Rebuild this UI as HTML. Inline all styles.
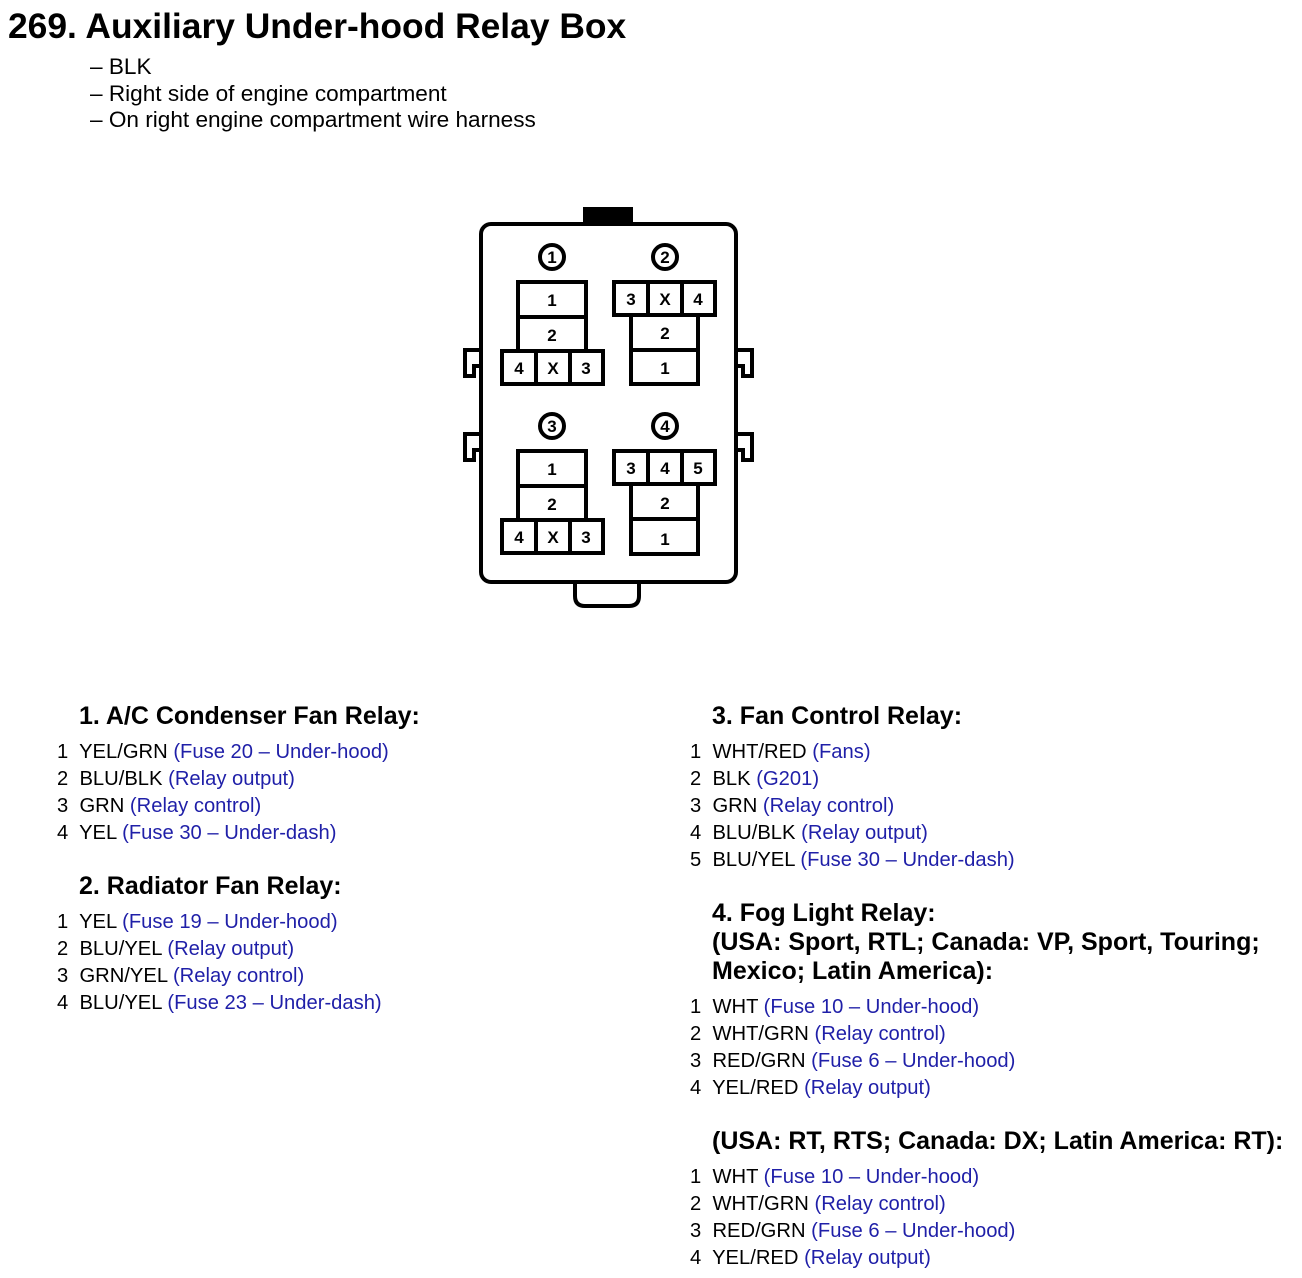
<!DOCTYPE html>
<html><head><meta charset="utf-8">
<style>
body{margin:0;width:1302px;height:1278px;background:#fff;position:relative;font-family:"Liberation Sans",Arial,sans-serif;color:#000;overflow:hidden}
.t{position:absolute;white-space:nowrap;font-size:20.2px;line-height:24px}
.h{position:absolute;white-space:nowrap;font-size:25px;font-weight:bold;line-height:28px}
.b{color:#1f1fa8}
.s{font-size:22.6px}
</style></head><body>
<div class="h" style="left:8px;top:7px;font-size:35.4px;line-height:38px">269. Auxiliary Under-hood Relay Box</div>
<div class="t s" style="left:90px;top:55px">– BLK</div>
<div class="t s" style="left:90px;top:82px">– Right side of engine compartment</div>
<div class="t s" style="left:90px;top:108px">– On right engine compartment wire harness</div>

<svg style="position:absolute;left:0;top:0" width="1302" height="700" viewBox="0 0 1302 700">
<g fill="none" stroke="#000" stroke-width="4">
<rect x="481" y="224" width="255" height="358" rx="10" fill="#fff"/>
<path d="M575 584 v12 q0 10 10 10 h44 q10 0 10 -10 v-12" />
<path d="M481 350 h-16 v26 h9 v-10 h7" />
<path d="M481 434 h-16 v26 h9 v-10 h7" />
<path d="M736 350 h16 v26 h-9 v-10 h-7" />
<path d="M736 434 h16 v26 h-9 v-10 h-7" />
</g>
<rect x="583" y="207" width="50" height="16" fill="#000"/>
<g fill="#fff" stroke="#000" stroke-width="4">
<circle cx="552" cy="257" r="12"/><circle cx="665" cy="257" r="12"/>
<circle cx="552" cy="426" r="12"/><circle cx="665" cy="426" r="12"/>
<rect x="518" y="282" width="68" height="35"/><rect x="518" y="317" width="68" height="34"/>
<rect x="502" y="351" width="34" height="33"/><rect x="536" y="351" width="34" height="33"/><rect x="570" y="351" width="33" height="33"/>
<rect x="614" y="282" width="34" height="33"/><rect x="648" y="282" width="34" height="33"/><rect x="682" y="282" width="33" height="33"/>
<rect x="631" y="315" width="67" height="35"/><rect x="631" y="350" width="67" height="34"/>
<rect x="518" y="451" width="68" height="35"/><rect x="518" y="486" width="68" height="34"/>
<rect x="502" y="520" width="34" height="33"/><rect x="536" y="520" width="34" height="33"/><rect x="570" y="520" width="33" height="33"/>
<rect x="614" y="451" width="34" height="33"/><rect x="648" y="451" width="34" height="33"/><rect x="682" y="451" width="33" height="33"/>
<rect x="631" y="484" width="67" height="35"/><rect x="631" y="519" width="67" height="35"/>
</g>
<g font-family="Liberation Sans,Arial,sans-serif" font-weight="bold" font-size="17" text-anchor="middle" fill="#000">
<text x="552" y="263">1</text><text x="665" y="263">2</text>
<text x="552" y="432">3</text><text x="665" y="432">4</text>
<text x="552" y="306">1</text><text x="552" y="341">2</text>
<text x="519" y="374">4</text><text x="553" y="374">X</text><text x="586" y="374">3</text>
<text x="631" y="305">3</text><text x="665" y="305">X</text><text x="698" y="305">4</text>
<text x="665" y="339">2</text><text x="665" y="374">1</text>
<text x="552" y="475">1</text><text x="552" y="510">2</text>
<text x="519" y="543">4</text><text x="553" y="543">X</text><text x="586" y="543">3</text>
<text x="631" y="474">3</text><text x="665" y="474">4</text><text x="698" y="474">5</text>
<text x="665" y="509">2</text><text x="665" y="545">1</text>
</g>
</svg>

<div class="h" style="left:79px;top:702px">1. A/C Condenser Fan Relay:</div>
<div class="t" style="left:57px;top:740px">1&nbsp; YEL/GRN <span class="b">(Fuse 20 – Under-hood)</span></div>
<div class="t" style="left:57px;top:767px">2&nbsp; BLU/BLK <span class="b">(Relay output)</span></div>
<div class="t" style="left:57px;top:794px">3&nbsp; GRN <span class="b">(Relay control)</span></div>
<div class="t" style="left:57px;top:821px">4&nbsp; YEL <span class="b">(Fuse 30 – Under-dash)</span></div>
<div class="h" style="left:79px;top:872px">2. Radiator Fan Relay:</div>
<div class="t" style="left:57px;top:910px">1&nbsp; YEL <span class="b">(Fuse 19 – Under-hood)</span></div>
<div class="t" style="left:57px;top:937px">2&nbsp; BLU/YEL <span class="b">(Relay output)</span></div>
<div class="t" style="left:57px;top:964px">3&nbsp; GRN/YEL <span class="b">(Relay control)</span></div>
<div class="t" style="left:57px;top:991px">4&nbsp; BLU/YEL <span class="b">(Fuse 23 – Under-dash)</span></div>

<div class="h" style="left:712px;top:702px">3. Fan Control Relay:</div>
<div class="t" style="left:690px;top:740px">1&nbsp; WHT/RED <span class="b">(Fans)</span></div>
<div class="t" style="left:690px;top:767px">2&nbsp; BLK <span class="b">(G201)</span></div>
<div class="t" style="left:690px;top:794px">3&nbsp; GRN <span class="b">(Relay control)</span></div>
<div class="t" style="left:690px;top:821px">4&nbsp; BLU/BLK <span class="b">(Relay output)</span></div>
<div class="t" style="left:690px;top:848px">5&nbsp; BLU/YEL <span class="b">(Fuse 30 – Under-dash)</span></div>
<div class="h" style="left:712px;top:899px">4. Fog Light Relay:</div>
<div class="h" style="left:712px;top:928px">(USA: Sport, RTL; Canada: VP, Sport, Touring;</div>
<div class="h" style="left:712px;top:957px">Mexico; Latin America):</div>
<div class="t" style="left:690px;top:995px">1&nbsp; WHT <span class="b">(Fuse 10 – Under-hood)</span></div>
<div class="t" style="left:690px;top:1022px">2&nbsp; WHT/GRN <span class="b">(Relay control)</span></div>
<div class="t" style="left:690px;top:1049px">3&nbsp; RED/GRN <span class="b">(Fuse 6 – Under-hood)</span></div>
<div class="t" style="left:690px;top:1076px">4&nbsp; YEL/RED <span class="b">(Relay output)</span></div>
<div class="h" style="left:712px;top:1127px">(USA: RT, RTS; Canada: DX; Latin America: RT):</div>
<div class="t" style="left:690px;top:1165px">1&nbsp; WHT <span class="b">(Fuse 10 – Under-hood)</span></div>
<div class="t" style="left:690px;top:1192px">2&nbsp; WHT/GRN <span class="b">(Relay control)</span></div>
<div class="t" style="left:690px;top:1219px">3&nbsp; RED/GRN <span class="b">(Fuse 6 – Under-hood)</span></div>
<div class="t" style="left:690px;top:1246px">4&nbsp; YEL/RED <span class="b">(Relay output)</span></div>
</body></html>
